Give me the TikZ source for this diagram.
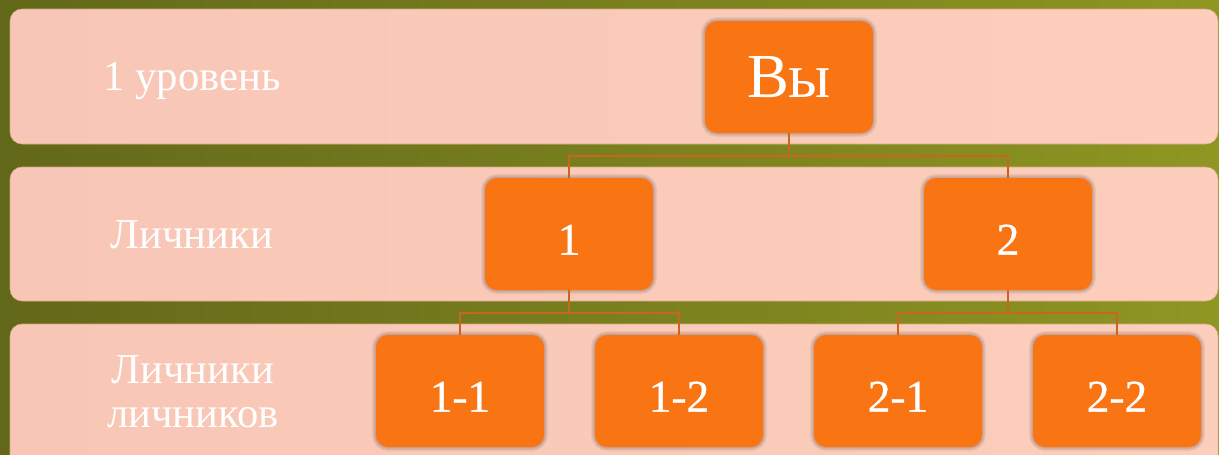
\documentclass[tikz,border=0pt]{standalone}
\usepackage{fontspec}
\setmainfont{Liberation Serif}
\newfontfamily\boxfont[FakeBold=0.8]{Liberation Serif}
\definecolor{olivedark}{RGB}{98,104,25}
\definecolor{olivelight}{RGB}{143,150,34}
\definecolor{bandleft}{RGB}{248,198,182}
\definecolor{bandright}{RGB}{253,206,187}
\definecolor{boxorange}{RGB}{249,116,18}
\definecolor{linkcol}{RGB}{200,102,30}
\definecolor{bandedge}{RGB}{214,168,128}
\begin{document}
\begin{tikzpicture}[x=0.75pt,y=-0.75pt,
  band/.style={rounded corners=9pt, left color=bandleft, right color=bandright, draw=bandedge, line width=0.4pt},
  orgbox/.style={fill=boxorange, rounded corners=9pt, minimum width=126pt, minimum height=84pt,
    inner sep=0pt, text=white, font=\boxfont\fontsize{34}{36}\selectfont, text height=31pt, text depth=0pt,
    preaction={draw=black, draw opacity=0.06, line width=6pt},
    preaction={draw=black, draw opacity=0.07, line width=4pt},
    preaction={draw=black, draw opacity=0.08, line width=2pt}},
  toptext/.style={font=\fontsize{47}{50}\selectfont, text height=31pt},
  lab/.style={text=white, font=\fontsize{32}{33}\selectfont, align=center, inner sep=0pt},
  link/.style={draw=linkcol, line width=1.5pt}]
\useasboundingbox (0,0) rectangle (1219,454);
\clip (0,0) rectangle (1219,454);
% background
\shade[left color=olivedark, right color=olivelight] (0,0) rectangle (1219,454);
% bands
\path[band] (10,9) rectangle (1218,144);
\path[band] (10,167) rectangle (1218,301);
\path[band] (10,324) rectangle (1218,480);
% level labels
\node[lab, anchor=base] (l1) at (192,90) {1 уровень};
\node[lab, anchor=base] (l2) at (192,248) {Личники};
\node[lab, anchor=base] (l3a) at (193,383) {Личники};
\node[lab, anchor=base] (l3b) at (193,427) {личников};
% boxes
\node[orgbox, toptext] (vy) at (789,77) {Вы};
\node[orgbox] (n1) at (569,234) {1};
\node[orgbox] (n2) at (1008,234) {2};
\node[orgbox] (n11) at (460,391) {1-1};
\node[orgbox] (n12) at (679,391) {1-2};
\node[orgbox] (n21) at (898,391) {2-1};
\node[orgbox] (n22) at (1117,391) {2-2};
% connectors
\draw[link] (vy.south) -- ++(0,23) -| (n1.north);
\draw[link] (vy.south) -- ++(0,23) -| (n2.north);
\draw[link] (n1.south) -- ++(0,23) -| (n11.north);
\draw[link] (n1.south) -- ++(0,23) -| (n12.north);
\draw[link] (n2.south) -- ++(0,23) -| (n21.north);
\draw[link] (n2.south) -- ++(0,23) -| (n22.north);
\end{tikzpicture}
\end{document}
